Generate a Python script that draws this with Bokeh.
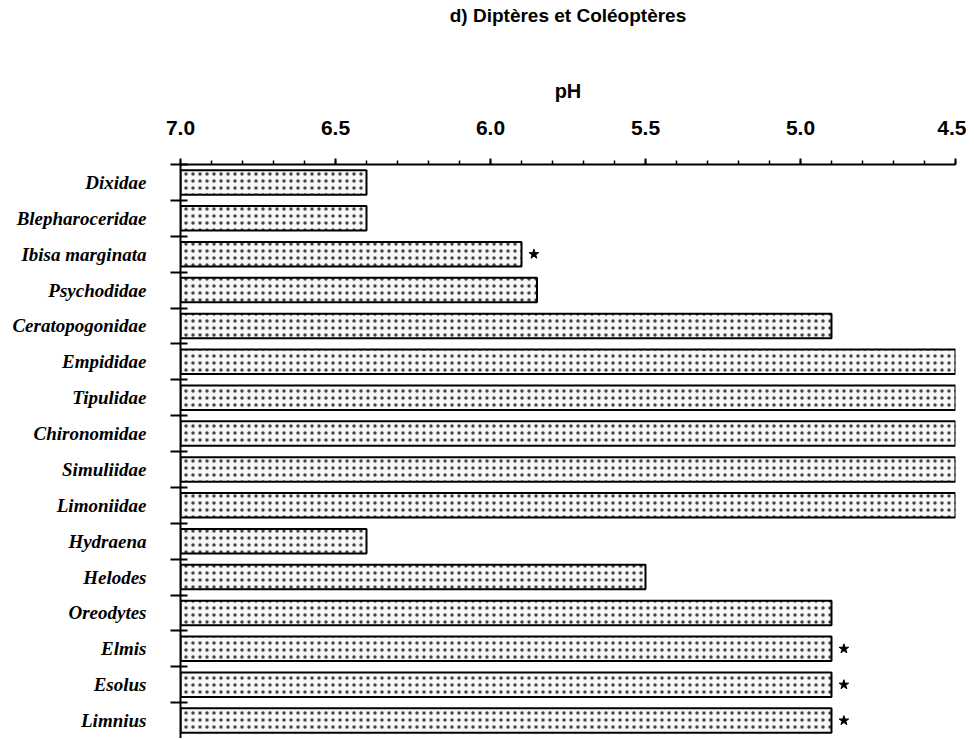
from bokeh.plotting import figure
from bokeh.layouts import column
from bokeh.models import Range1d, FixedTicker, SingleIntervalTicker, NumeralTickFormatter, ColumnDataSource
from bokeh.core.properties import value
from bokeh.embed import file_html
from bokeh.resources import INLINE

title_text = "d) Diptères et Coléoptères"
taxa = ["Dixidae", "Blepharoceridae", "Ibisa marginata", "Psychodidae", "Ceratopogonidae",
        "Empididae", "Tipulidae", "Chironomidae", "Simuliidae", "Limoniidae",
        "Hydraena", "Helodes", "Oreodytes", "Elmis", "Esolus", "Limnius"]
ph_min = [6.4, 6.4, 5.9, 5.85, 4.9, 4.5, 4.5, 4.5, 4.5, 4.5, 6.4, 5.5, 4.9, 4.9, 4.9, 4.9]
starred = [False, False, True, False, False, False, False, False, False, False,
           False, False, False, True, True, True]
ph_start = 7.0
ph_end = 4.5

pos = list(range(len(taxa)))
src = ColumnDataSource(dict(y=pos, right=ph_min, left=[ph_start] * len(taxa)))
star_x = [v - 0.04 for v, s in zip(ph_min, starred) if s]
star_y = [i for i, s in zip(pos, starred) if s]

W = 966
LEFT, RIGHT = 180, 11
FRAME_W, FRAME_H = 775, 574
TITLE_H = 30

# --- title strip: same left/right borders as the chart so it centres over the frame ---
t = figure(width=W, height=TITLE_H, output_backend="svg", toolbar_location=None,
           x_range=Range1d(0, FRAME_W), y_range=Range1d(0, TITLE_H),
           min_border_left=LEFT, min_border_right=RIGHT, min_border_top=0, min_border_bottom=0)
t.frame_width = FRAME_W
t.frame_height = TITLE_H
t.axis.visible = False
t.grid.visible = False
t.outline_line_color = None
t.text(x=[FRAME_W / 2], y=[TITLE_H / 2], text=[title_text],
       text_align="center", text_baseline="middle",
       text_font=value("Liberation Sans"), text_font_size="19px",
       text_font_style="bold", text_color="black")

# --- main chart ---
p = figure(width=W, height=164 - TITLE_H + FRAME_H, output_backend="svg", toolbar_location=None,
           x_range=Range1d(ph_start, ph_end), y_range=Range1d(len(taxa) - 0.5, -0.5),
           x_axis_location="above", min_border_left=LEFT, min_border_right=RIGHT,
           min_border_top=164 - TITLE_H, min_border_bottom=0)
p.frame_width = FRAME_W
p.frame_height = FRAME_H
p.outline_line_color = None
p.grid.visible = False
p.background_fill_color = "white"

p.hbar(y="y", left="left", right="right", height=0.68, source=src,
       fill_color="#f7f7f7", line_color="black", line_width=2,
       hatch_pattern=".", hatch_scale=7, hatch_color="#444444", hatch_weight=0.8)
p.scatter(star_x, star_y, marker="star", size=10, color="black")

xa = p.xaxis[0]
xa.ticker = SingleIntervalTicker(interval=0.5, num_minor_ticks=5)
xa.formatter = NumeralTickFormatter(format="0.0")
xa.axis_label = "pH"
xa.axis_label_text_font = "Liberation Sans"
xa.axis_label_text_font_size = "20px"
xa.axis_label_text_font_style = "bold"
xa.axis_label_text_color = "black"
xa.axis_label_standoff = 16
xa.major_label_text_font = "Liberation Sans"
xa.major_label_text_font_size = "21px"
xa.major_label_text_font_style = "bold"
xa.major_label_text_color = "black"
xa.major_label_standoff = 24
xa.major_tick_out = 6
xa.major_tick_in = 0
xa.minor_tick_out = 4
xa.minor_tick_in = 0
xa.axis_line_width = 2
xa.major_tick_line_width = 2
xa.minor_tick_line_width = 1.5

ya = p.yaxis[0]
ya.ticker = FixedTicker(ticks=pos, minor_ticks=[i - 0.5 for i in range(len(taxa))])
ya.major_label_overrides = {i: t_ for i, t_ in zip(pos, taxa)}
ya.major_label_text_font = "Liberation Serif"
ya.major_label_text_font_size = "19px"
ya.major_label_text_font_style = "bold italic"
ya.major_label_text_color = "black"
ya.major_label_standoff = 24
ya.major_tick_out = 0
ya.major_tick_in = 0
ya.minor_tick_out = 10
ya.minor_tick_in = 7
ya.minor_tick_line_width = 2
ya.axis_line_width = 2

layout = column(t, p, spacing=0)
open("out.html", "w").write(file_html(layout, INLINE))
